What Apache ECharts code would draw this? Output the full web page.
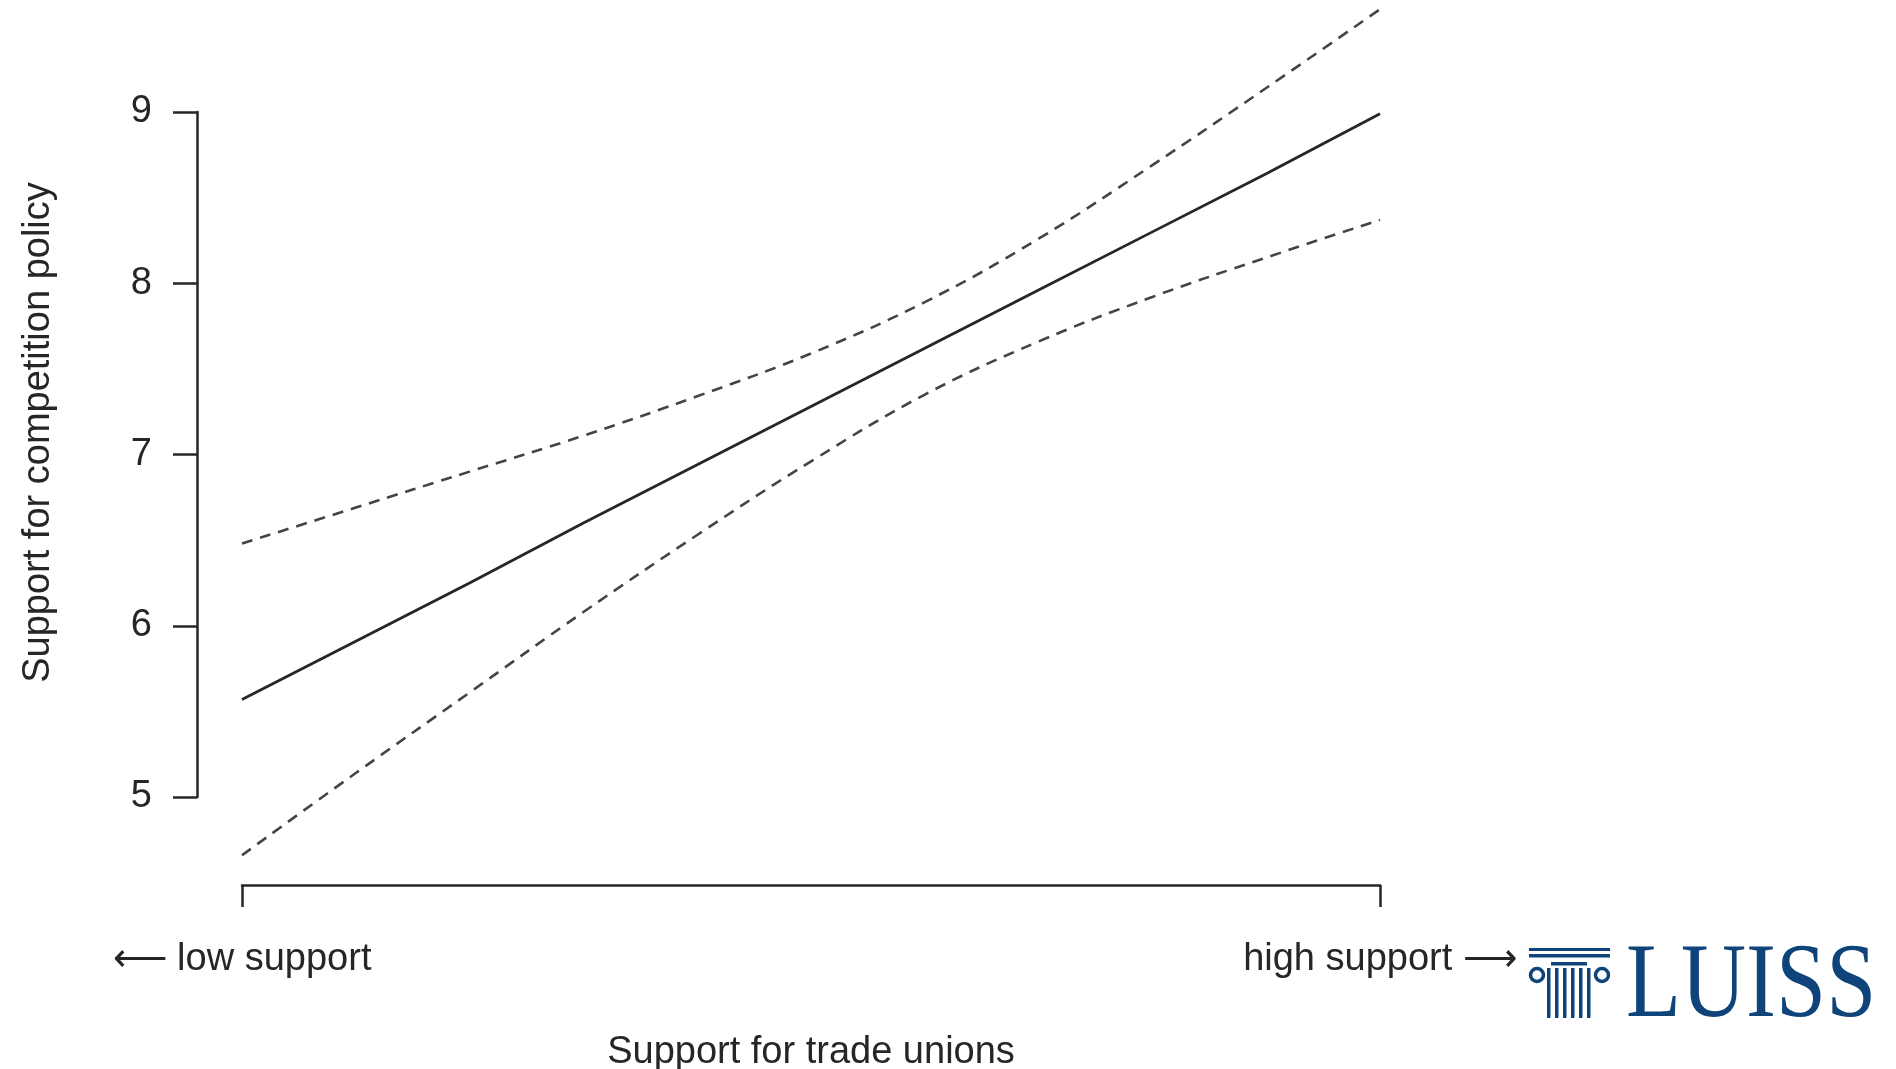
<!DOCTYPE html>
<html>
<head>
<meta charset="utf-8">
<title>Support for competition policy by support for trade unions</title>
<script src="https://cdn.jsdelivr.net/npm/echarts@6/dist/echarts.min.js"></script>
<style>
  html, body { margin: 0; padding: 0; background: #ffffff; }
  #chart { width: 1896px; height: 1069px; }
</style>
</head>
<body>
<div id="chart"></div>
<script>
// Support for trade unions (0 = low, 10 = high)
const unionSupport = [0, 1, 2, 3, 4, 5, 6, 7, 8, 9, 10];
// Predicted support for competition policy
const predicted = [5.57, 5.91, 6.25, 6.60, 6.94, 7.28, 7.62, 7.96, 8.30, 8.64, 8.99];
// Upper and lower confidence bounds
const upperBand = [6.48, 6.69, 6.90, 7.11, 7.34, 7.59, 7.89, 8.26, 8.69, 9.14, 9.60];
const lowerBand = [4.66, 5.14, 5.61, 6.08, 6.53, 6.96, 7.35, 7.66, 7.92, 8.15, 8.37];
// Axis ticks and end labels
const yTicks = [5, 6, 7, 8, 9];
const xEndLabels = ['\u27F5 low support', 'high support \u27F6'];

const pairs = (ys) => unionSupport.map((x, i) => [x, ys[i]]);

const ink = '#262626';
const font = '"Liberation Sans", Arial, Helvetica, sans-serif';
const logoBlue = '#0e4479';

const chart = echarts.init(document.getElementById('chart'), null, { renderer: 'canvas' });

const option = {
  backgroundColor: '#ffffff',
  animation: false,
  grid: {
    left: 242, right: 516, top: 112, bottom: 272,
    containLabel: false,
    outerBoundsMode: 'none'
  },
  xAxis: {
    type: 'value',
    min: unionSupport[0],
    max: unionSupport[unionSupport.length - 1],
    interval: unionSupport[unionSupport.length - 1] - unionSupport[0],
    offset: 88,
    splitLine: { show: false },
    axisLine: { show: true, onZero: false, lineStyle: { color: ink, width: 2.5 } },
    axisTick: { show: true, length: 22, lineStyle: { color: ink, width: 2.5 } },
    axisLabel: {
      margin: 56,
      fontFamily: font,
      fontSize: 38,
      color: ink,
      formatter: (v) => (v === unionSupport[0] ? xEndLabels[0] : xEndLabels[1])
    },
    name: 'Support for trade unions',
    nameLocation: 'middle',
    nameGap: 149,
    nameTextStyle: { fontFamily: font, fontSize: 38, color: ink }
  },
  yAxis: {
    type: 'value',
    min: yTicks[0],
    max: yTicks[yTicks.length - 1],
    interval: 1,
    offset: 45,
    splitLine: { show: false },
    axisLine: { show: true, onZero: false, lineStyle: { color: ink, width: 2.5 } },
    axisTick: { show: true, length: 24, lineStyle: { color: ink, width: 2.5 } },
    axisLabel: { margin: 45, fontFamily: font, fontSize: 38, color: ink },
    name: 'Support for competition policy',
    nameLocation: 'middle',
    nameGap: 139,
    nameTextStyle: { fontFamily: font, fontSize: 38, color: ink, padding: [0, 0, 0, 44] }
  },
  series: [
    {
      name: 'Predicted',
      type: 'line',
      data: pairs(predicted),
      showSymbol: false,
      clip: false,
      lineStyle: { color: '#262626', width: 2.8, type: 'solid' }
    },
    {
      name: 'Upper bound',
      type: 'line',
      data: pairs(upperBand),
      smooth: 0.4,
      showSymbol: false,
      clip: false,
      lineStyle: { color: '#444444', width: 2.6, type: [11, 8] }
    },
    {
      name: 'Lower bound',
      type: 'line',
      data: pairs(lowerBand),
      smooth: 0.4,
      showSymbol: false,
      clip: false,
      lineStyle: { color: '#444444', width: 2.6, type: [11, 8] }
    }
  ],
  graphic: [
    {
      // University logo: column emblem and wordmark
      type: 'group',
      x: 1529,
      y: 948,
      children: [
        { type: 'rect', shape: { x: 0, y: 0, width: 81, height: 3 }, style: { fill: logoBlue } },
        { type: 'rect', shape: { x: 0, y: 6, width: 81, height: 3.5 }, style: { fill: logoBlue } },
        { type: 'rect', shape: { x: 22, y: 14, width: 36, height: 3.5 }, style: { fill: logoBlue } },
        { type: 'circle', shape: { cx: 8, cy: 27, r: 6.5 }, style: { fill: 'none', stroke: logoBlue, lineWidth: 3.5 } },
        { type: 'circle', shape: { cx: 73, cy: 27, r: 6.5 }, style: { fill: 'none', stroke: logoBlue, lineWidth: 3.5 } },
        { type: 'rect', shape: { x: 18, y: 20, width: 3.5, height: 50 }, style: { fill: logoBlue } },
        { type: 'rect', shape: { x: 26, y: 20, width: 3.5, height: 50 }, style: { fill: logoBlue } },
        { type: 'rect', shape: { x: 34, y: 20, width: 3.5, height: 50 }, style: { fill: logoBlue } },
        { type: 'rect', shape: { x: 42, y: 20, width: 3.5, height: 50 }, style: { fill: logoBlue } },
        { type: 'rect', shape: { x: 50, y: 20, width: 3.5, height: 50 }, style: { fill: logoBlue } },
        { type: 'rect', shape: { x: 58, y: 20, width: 3.5, height: 50 }, style: { fill: logoBlue } },
        {
          type: 'text',
          x: 97,
          y: 93,
          scaleX: 0.85,
          style: {
            text: 'LUISS',
            fill: logoBlue,
            font: '106px "Liberation Serif", "Times New Roman", serif',
            verticalAlign: 'bottom'
          }
        }
      ]
    }
  ]
};

chart.setOption(option);
</script>
</body>
</html>
